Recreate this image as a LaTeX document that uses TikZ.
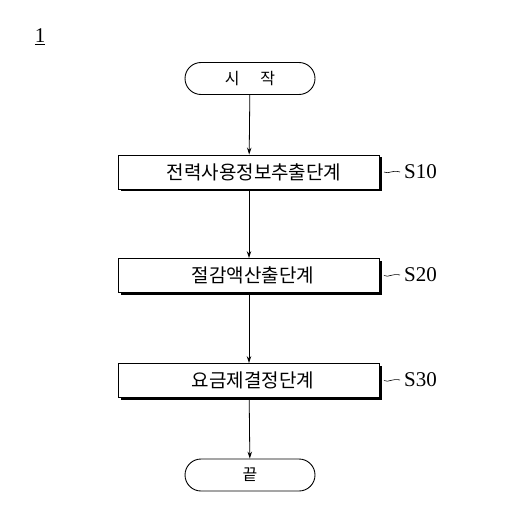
\documentclass[tikz,border=0pt]{standalone}
\usepackage{fontspec}
\setmainfont{Liberation Serif}
\newfontfamily\kr{Noto Sans CJK KR}
\usetikzlibrary{arrows.meta,shadows}
\begin{document}
\begin{tikzpicture}[x=1pt,y=-1pt,
  term/.style={draw,line width=0.9pt,rounded corners=16pt,minimum width=130pt,minimum height=32pt,font=\kr\fontsize{16}{18}\selectfont,inner sep=0pt},
  stepbox/.style={draw,line width=0.9pt,fill=white,minimum width=261pt,minimum height=34pt,font=\kr\fontsize{19}{21}\selectfont,inner sep=0pt,
    drop shadow={shadow xshift=2pt,shadow yshift=-2pt,fill=black,opacity=1}},
  lab/.style={font=\fontsize{21}{23}\selectfont,anchor=west,inner sep=0pt},
  flow/.style={line width=0.8pt,-{Stealth[length=7pt,width=4.5pt]}}]
\useasboundingbox (0,0) rectangle (506,527);
\node[font=\fontsize{21}{23}\selectfont,inner sep=0pt] (num) at (40,37) {\underline{1}};
\node[term] (start) at (250,78.5) {시\hspace{1.3em}작};
\node[stepbox] (s10) at (249,172) {\hspace*{10pt}전력사용정보추출단계};
\node[stepbox] (s20) at (249,275.5) {\hspace*{8pt}절감액산출단계};
\node[stepbox] (s30) at (249,380.5) {\hspace*{8pt}요금제결정단계};
\node[term] (end) at (250,475) {끝};
\node[lab] (l10) at (404,172) {S10};
\node[lab] (l20) at (404,275) {S20};
\node[lab] (l30) at (404,380) {S30};
\draw[flow] (start) -- (s10);
\draw[flow] (s10) -- (s20);
\draw[flow] (s20) -- (s30);
\draw[flow] (s30) -- (end);
\foreach \a/\b in {s10/l10,s20/l20,s30/l30}{
  \draw[line width=0.6pt] ([xshift=4pt]\a.east) .. controls ([xshift=9pt,yshift=-2.5pt]\a.east) and ([xshift=12pt,yshift=2.5pt]\a.east) .. ([xshift=-4pt]\b.west);
}
\end{tikzpicture}
\end{document}
